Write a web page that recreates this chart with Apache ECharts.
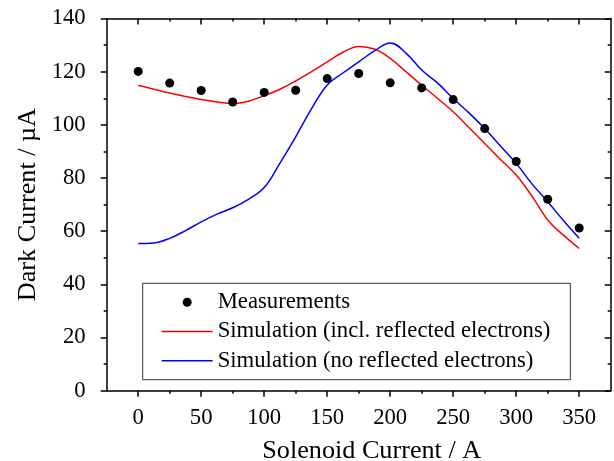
<!DOCTYPE html>
<html>
<head>
<meta charset="utf-8">
<script src="https://cdn.jsdelivr.net/npm/echarts@6/dist/echarts.min.js"></script>
<style>html,body{margin:0;padding:0;background:#fff}#c{width:614px;height:461px}</style>
</head>
<body>
<div id="c"></div>
<script>
var measX = [0,25,50,75,100,125,150,175,200,225,250,275,300,325,350];
var measY = [120.1,115.7,112.9,108.6,112.2,113.0,117.4,119.3,115.8,113.9,109.5,98.6,86.2,72.0,61.2];
var simX = [0,12.5,25,37.5,50,62.5,75,87.5,100,112.5,125,137.5,150,162.5,175,187.5,200,212.5,225,237.5,250,262.5,275,287.5,300,312.5,325,337.5,350];
var redY = [114.9,113.4,112.0,110.7,109.5,108.6,108.0,108.9,111.0,113.4,116.5,120.0,123.7,127.3,129.5,128.5,125.0,120.0,114.9,110.0,104.9,99.0,93.0,87.0,81.1,73.2,64.2,58.5,53.5];
var blueY = [55.4,55.6,57.3,60.2,63.5,66.4,68.8,72.0,76.4,85.6,95.5,106.0,115.0,119.5,123.7,127.8,130.8,127.0,120.6,115.8,109.9,104.5,98.6,92.0,85.5,77.8,71.1,64.0,57.3];
var xMajor = [0,50,100,150,200,250,300,350];
var xMinor = [25,75,125,175,225,275,325];
var names = ['Measurements','Simulation (incl. reflected electrons)','Simulation (no reflected electrons)'];

function pairs(xs, ys){ return xs.map(function(x,i){return [x, ys[i]];}); }
var font = 'Liberation Serif';
var axLine = {show:true, onZero:false, lineStyle:{color:'#000', width:1.5}};
var tickStyle = {color:'#000', width:1.5};
var lineIcon = 'path://M0 0 M0 14 M0 6.25 H51 V7.75 H0 Z';
var dotIcon = 'path://M0 0 M51 14 M21 7 A4.5 4.5 0 1 0 30 7 A4.5 4.5 0 1 0 21 7 Z';

var chart = echarts.init(document.getElementById('c'));
chart.setOption({
  animation:false,
  grid:{left:106.7, right:3.3, top:18.5, bottom:70.3, containLabel:false, outerBoundsMode:'none'},
  xAxis:[
    {type:'value', position:'bottom', min:-25, max:375, interval:25,
     axisLine:axLine,
     axisTick:{show:true, customValues:xMajor, length:6, lineStyle:tickStyle},
     axisLabel:{show:true, customValues:xMajor, margin:16, fontFamily:font, fontSize:22.7, color:'#000'},
     splitLine:{show:false},
     name:'Solenoid Current / A', nameLocation:'middle', nameGap:47,
     nameTextStyle:{fontFamily:font, fontSize:26.2, color:'#000', padding:[0,0,0,26]}},
    {type:'value', position:'bottom', min:-25, max:375, interval:25,
     axisLine:{show:false, onZero:false},
     axisTick:{show:true, customValues:xMinor, length:3, lineStyle:tickStyle},
     axisLabel:{show:false}, splitLine:{show:false}},
    {type:'value', position:'top', min:-25, max:375, interval:25,
     axisLine:axLine,
     axisTick:{show:true, inside:true, customValues:xMajor, length:6, lineStyle:tickStyle},
     axisLabel:{show:false}, splitLine:{show:false}},
    {type:'value', position:'top', min:-25, max:375, interval:25,
     axisLine:{show:false, onZero:false},
     axisTick:{show:true, inside:true, customValues:xMinor, length:3, lineStyle:tickStyle},
     axisLabel:{show:false}, splitLine:{show:false}}
  ],
  yAxis:[
    {type:'value', position:'left', min:0, max:140, interval:20,
     axisLine:axLine,
     axisTick:{show:true, length:6, lineStyle:tickStyle},
     minorTick:{show:true, splitNumber:2, length:3, lineStyle:tickStyle},
     axisLabel:{margin:21, fontFamily:font, fontSize:22.7, color:'#000', padding:[4,0,0,0]},
     splitLine:{show:false},
     name:'Dark Current / µA', nameLocation:'middle', nameGap:66,
     nameTextStyle:{fontFamily:font, fontSize:26.2, color:'#000'}},
    {type:'value', position:'right', min:0, max:140, interval:20,
     axisLine:axLine,
     axisTick:{show:true, inside:true, length:6, lineStyle:tickStyle},
     minorTick:{show:true, splitNumber:2, length:3, lineStyle:tickStyle},
     axisLabel:{show:false}, splitLine:{show:false}}
  ],
  legend:{
    orient:'vertical', left:142.7, top:283.3,
    padding:[7.4,20,7.4,19],
    itemWidth:51, itemHeight:14, itemGap:6.3,
    symbolKeepAspect:true,
    borderColor:'#333', borderWidth:1,
    textStyle:{fontFamily:font, fontSize:22.7, color:'#000', lineHeight:22},
    data:[
      {name:names[0], icon:dotIcon, itemStyle:{color:'#000', opacity:1}},
      {name:names[1], icon:lineIcon, itemStyle:{color:'#ff0000'}},
      {name:names[2], icon:lineIcon, itemStyle:{color:'#0000ff'}}
    ]
  },
  series:[
    {name:names[0], type:'scatter', data:pairs(measX, measY), symbol:'circle', symbolSize:9,
     itemStyle:{color:'#000', opacity:1}, z:5},
    {name:names[1], type:'line', data:pairs(simX, redY), smooth:0.4, symbol:'none',
     lineStyle:{color:'#ff0000', width:1.5}, itemStyle:{color:'#ff0000'}},
    {name:names[2], type:'line', data:pairs(simX, blueY), smooth:0.4, symbol:'none',
     lineStyle:{color:'#0000ff', width:1.5}, itemStyle:{color:'#0000ff'}}
  ]
});
</script>
</body>
</html>
